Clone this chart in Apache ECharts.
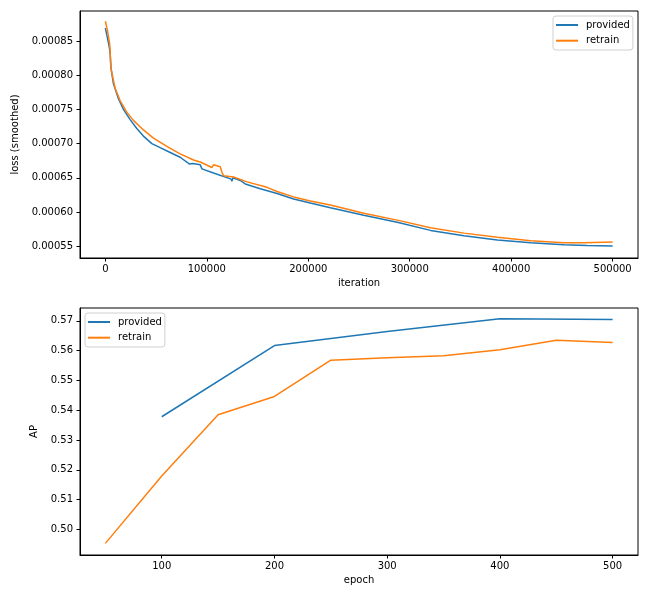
<!DOCTYPE html>
<html>
<head>
<meta charset="utf-8">
<script src="https://cdn.jsdelivr.net/npm/echarts@6/dist/echarts.min.js"></script>
<style>html,body{margin:0;padding:0;background:#fff}#c{width:659px;height:598px}</style>
</head>
<body>
<div id="c"></div>
<script>
// ---- top chart: smoothed loss vs iteration ----
const provIter = [0, 2000, 4000, 4800, 5600, 7900, 12800, 17800, 24400, 31000, 37500, 45800, 54000, 63900, 73700, 83000, 84500, 86300, 93500, 95200, 106600, 124000, 124700, 125800, 133000, 137900, 152700, 169200, 185600, 202000, 221800, 254700, 287700, 320500, 353400, 386400, 419300, 452100, 475000, 500000];
const provLoss = [0.000869, 0.000855, 0.000840, 0.000830, 0.000810, 0.000788, 0.000766, 0.000750, 0.000735, 0.000722, 0.000711, 0.000700, 0.000694, 0.000687, 0.000680, 0.000670, 0.000668, 0.000671, 0.000669, 0.000663, 0.000657, 0.000648, 0.000645, 0.000650, 0.000646, 0.000641, 0.000634, 0.000627, 0.000619, 0.000613, 0.000606, 0.000595, 0.000585, 0.000573, 0.000565, 0.000559, 0.000555, 0.000552, 0.000551, 0.000550];
const retrIter = [0, 2000, 4000, 4600, 5300, 6300, 9600, 14500, 21100, 27600, 37500, 47400, 60600, 73700, 86900, 93500, 105000, 106600, 113200, 114900, 116500, 126400, 139600, 159300, 169200, 185600, 202000, 221800, 254700, 287700, 320500, 353400, 386400, 419300, 452100, 472000, 500000];
const retrLoss = [0.000879, 0.000866, 0.000848, 0.000839, 0.000812, 0.000804, 0.000781, 0.000763, 0.000746, 0.000734, 0.000720, 0.000708, 0.000696, 0.000685, 0.000676, 0.000673, 0.000665, 0.000669, 0.000666, 0.000658, 0.000653, 0.000651, 0.000644, 0.000636, 0.000630, 0.000622, 0.000616, 0.000610, 0.000598, 0.000588, 0.000577, 0.000569, 0.000563, 0.000558, 0.000555, 0.000555, 0.000556];
const iterTicks = [0, 100000, 200000, 300000, 400000, 500000];
const lossTicks = [0.00055, 0.00060, 0.00065, 0.00070, 0.00075, 0.00080, 0.00085];

// ---- bottom chart: AP vs epoch ----
const provEpoch = [100, 200, 300, 400, 500];
const provAP = [0.5378, 0.5617, 0.5664, 0.5707, 0.5704];
const retrEpoch = [50, 100, 150, 200, 250, 300, 350, 400, 450, 500];
const retrAP = [0.4953, 0.5179, 0.5385, 0.5446, 0.5568, 0.5576, 0.5583, 0.5603, 0.5635, 0.5627];
const epochTicks = [100, 200, 300, 400, 500];
const apTicks = [0.50, 0.51, 0.52, 0.53, 0.54, 0.55, 0.56, 0.57];

const BLUE = '#1f77b4', ORANGE = '#ff7f0e';
const FONT = 'DejaVu Sans';
const zip = (a, b) => a.map((v, i) => [v, b[i]]);

function xAxisCfg(idx, min, max, ticks, name, fmt) {
  return {
    type: 'value', gridIndex: idx, min: min, max: max,
    name: name, nameLocation: 'middle', nameGap: 20,
    nameTextStyle: {fontFamily: FONT, fontSize: 10, color: '#000'},
    axisLine: {show: true, onZero: false, lineStyle: {color: '#000', width: 1}},
    axisTick: {show: true, length: 3.5, customValues: ticks, lineStyle: {color: '#000'}},
    axisLabel: {show: true, customValues: ticks, margin: 6, fontFamily: FONT, fontSize: 10, color: '#000', formatter: fmt},
    splitLine: {show: false}
  };
}
function yAxisCfg(idx, min, max, ticks, name, gap, fmt) {
  return {
    type: 'value', gridIndex: idx, min: min, max: max,
    name: name, nameLocation: 'middle', nameGap: gap, nameRotate: 90,
    nameTextStyle: {fontFamily: FONT, fontSize: 10, color: '#000'},
    axisLine: {show: true, onZero: false, lineStyle: {color: '#000', width: 1}},
    axisTick: {show: true, length: 3.5, customValues: ticks, lineStyle: {color: '#000'}},
    axisLabel: {show: true, customValues: ticks, margin: 7, fontFamily: FONT, fontSize: 10, color: '#000', formatter: fmt},
    splitLine: {show: false}
  };
}
function legendCfg(left, top) {
  return {
    orient: 'vertical', left: left, top: top,
    data: ['provided', 'retrain'],
    itemWidth: 22, itemHeight: 2, itemGap: 3.7,
    icon: 'rect',
    backgroundColor: '#fff', borderColor: '#d0d0d0', borderWidth: 1, borderRadius: 3,
    padding: [3, 3, 3.3, 3],
    textStyle: {fontFamily: FONT, fontSize: 10, color: '#000', lineHeight: 12, padding: [0, 0, 0, 3]}
  };
}
function lineSeries(name, color, xi, yi, data) {
  return {
    type: 'line', name: name, xAxisIndex: xi, yAxisIndex: yi, data: data,
    showSymbol: false, symbol: 'none', smooth: false, animation: false,
    lineStyle: {color: color, width: 1.5}, itemStyle: {color: color}
  };
}

const chart = echarts.init(document.getElementById('c'), null, {renderer: 'canvas'});
chart.setOption({
  animation: false,
  backgroundColor: '#fff',
  grid: [
    {left: 80, right: 21, top: 11, height: 247, show: true, borderColor: '#000', borderWidth: 1, backgroundColor: 'transparent', containLabel: false},
    {left: 80, right: 21, top: 308, height: 247, show: true, borderColor: '#000', borderWidth: 1, backgroundColor: 'transparent', containLabel: false}
  ],
  legend: [legendCfg(553, 16), legendCfg(85, 313)],
  xAxis: [
    xAxisCfg(0, -25000, 525000, iterTicks, 'iteration', v => String(Math.round(v))),
    xAxisCfg(1, 27.5, 522.5, epochTicks, 'epoch', v => String(Math.round(v)))
  ],
  yAxis: [
    yAxisCfg(0, 0.0005326, 0.000894, lossTicks, 'loss (smoothed)', 52, v => v.toFixed(5)),
    yAxisCfg(1, 0.4914, 0.5743, apTicks, 'AP', 34, v => v.toFixed(2))
  ],
  series: [
    lineSeries('provided', BLUE, 0, 0, zip(provIter, provLoss)),
    lineSeries('retrain', ORANGE, 0, 0, zip(retrIter, retrLoss)),
    lineSeries('provided', BLUE, 1, 1, zip(provEpoch, provAP)),
    lineSeries('retrain', ORANGE, 1, 1, zip(retrEpoch, retrAP))
  ]
});
</script>
</body>
</html>
